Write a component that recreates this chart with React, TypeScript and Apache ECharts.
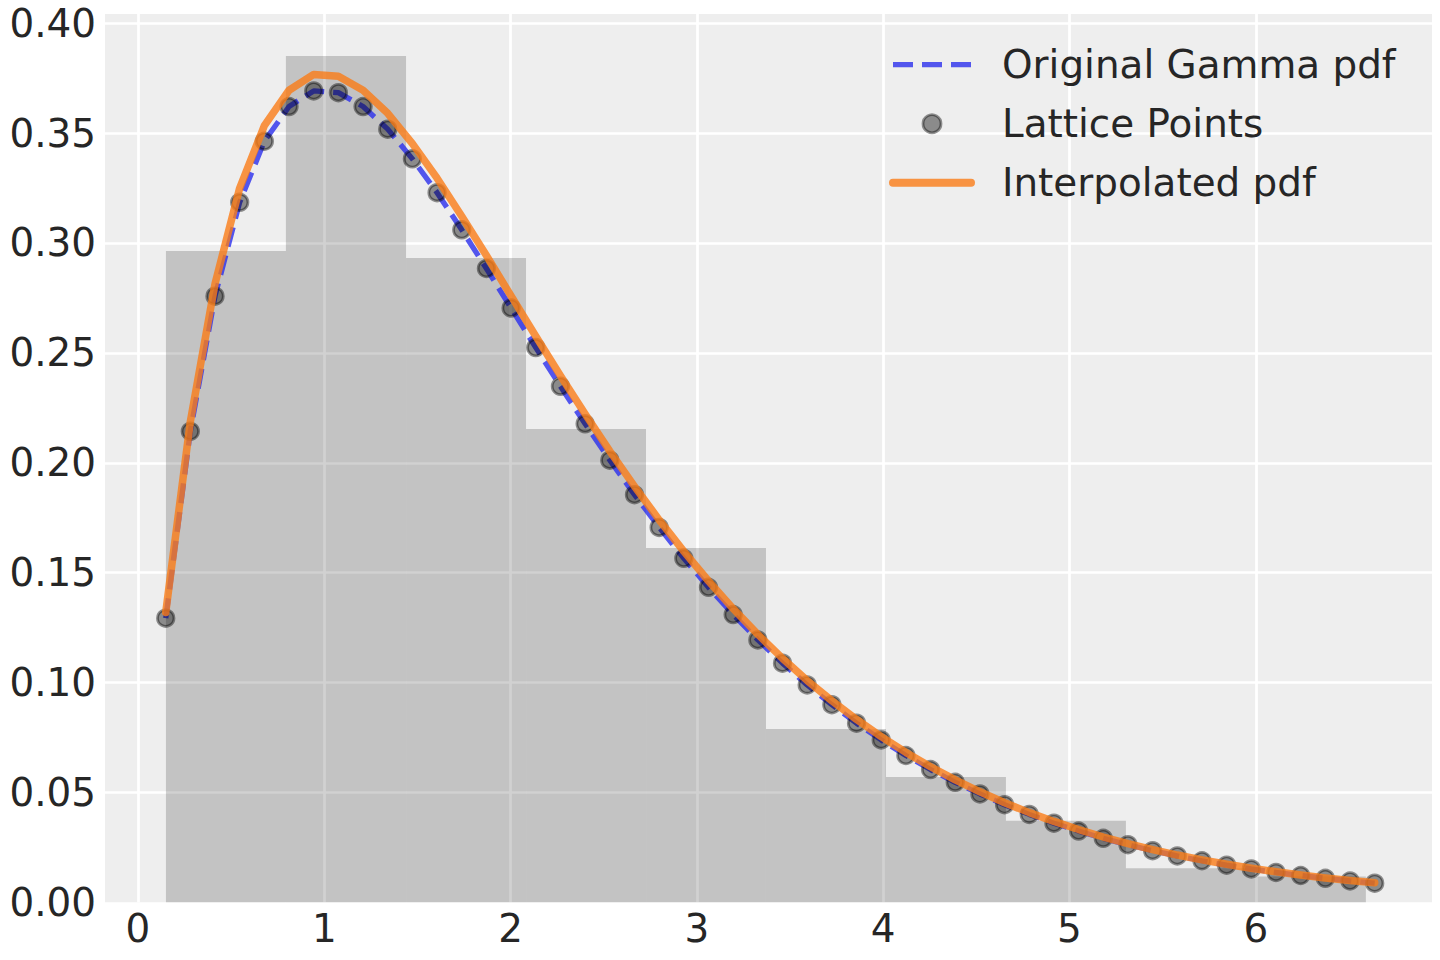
import React, { useEffect, useRef } from "react";
import * as echarts from "echarts";

// Lattice abscissae
const latticeX = [
  0.149, 0.281, 0.4135, 0.5459, 0.6784, 0.8108, 0.9433, 1.0757, 1.2082, 1.3406,
  1.473, 1.6055, 1.7379, 1.8704, 2.0028, 2.1353, 2.2677, 2.4002, 2.5326, 2.6651,
  2.7975, 2.9299, 3.0624, 3.1948, 3.3273, 3.4597, 3.5922, 3.7246, 3.8571, 3.9895,
  4.122, 4.2544, 4.3868, 4.5193, 4.6517, 4.7842, 4.9166, 5.0491, 5.1815, 5.314,
  5.4464, 5.5788, 5.7113, 5.8437, 5.9762, 6.1086, 6.2411, 6.3735, 6.506, 6.6384,
];

// Original Gamma pdf / lattice point values
const gammaPdf = [
  0.1293, 0.2143, 0.2758, 0.3185, 0.3463, 0.3621, 0.3692, 0.3684, 0.3621, 0.3518,
  0.3383, 0.3229, 0.306, 0.2884, 0.2704, 0.2524, 0.2348, 0.2177, 0.2012, 0.1855,
  0.1706, 0.1565, 0.1433, 0.1309, 0.1194, 0.1088, 0.0989, 0.0899, 0.0815, 0.0739,
  0.0668, 0.0604, 0.0546, 0.0493, 0.0444, 0.04, 0.036, 0.0324, 0.0291, 0.0262,
  0.0235, 0.0211, 0.0189, 0.0169, 0.0152, 0.0136, 0.0122, 0.0109, 0.0097, 0.0087,
];

// Interpolated pdf values at the lattice
const interpPdf = [
  0.1319, 0.2187, 0.2814, 0.325, 0.3534, 0.3695, 0.3767, 0.3759, 0.3695, 0.359,
  0.3452, 0.3295, 0.3122, 0.2943, 0.2759, 0.2576, 0.2396, 0.2222, 0.2053, 0.1893,
  0.174, 0.1597, 0.1462, 0.1336, 0.1219, 0.111, 0.1009, 0.0917, 0.0832, 0.0754,
  0.0682, 0.0617, 0.0557, 0.0503, 0.0453, 0.0408, 0.0368, 0.0331, 0.0297, 0.0267,
  0.024, 0.0215, 0.0193, 0.0173, 0.0155, 0.0139, 0.0124, 0.0111, 0.0099, 0.0089,
];

// Histogram (density) bins
const histEdges = [0.15, 0.794, 1.439, 2.083, 2.727, 3.371, 4.015, 4.659, 5.303, 5.996, 6.591];
const histDensity = [0.2964, 0.3851, 0.2932, 0.2154, 0.1612, 0.0788, 0.057, 0.0371, 0.0155, 0.0117];

const legendNames = ["Original Gamma pdf", "Lattice Points", "Interpolated pdf"];

const BLUE = "rgba(42,46,236,0.8)";
const ORANGE = "rgba(250,124,23,0.8)";

export default function App() {
  const ref = useRef<HTMLDivElement>(null);

  useEffect(() => {
    if (!ref.current) return;
    const chart = echarts.init(ref.current, null, { renderer: "svg" });
    const font = "'DejaVu Sans', sans-serif";
    const textColor = "#262626";
    const histData = histDensity.map((h, i) => [histEdges[i], histEdges[i + 1], h]);

    chart.setOption({
      animation: false,
      backgroundColor: "#ffffff",
      grid: {
        left: 105,
        right: 8,
        top: 14,
        bottom: 57.7,
        show: true,
        backgroundColor: "#eeeeee",
        borderWidth: 0,
      },
      xAxis: {
        type: "value",
        min: -0.177,
        max: 6.946,
        splitNumber: 7,
        axisLine: { show: false },
        axisTick: { show: false },
        axisLabel: {
          color: textColor,
          fontSize: 38.9,
          fontFamily: font,
          margin: 7,
          showMinLabel: false,
          showMaxLabel: false,
          formatter: (v: number) => (Math.abs(v - Math.round(v)) < 1e-9 ? String(Math.round(v)) : ""),
        },
        splitLine: {
          show: true,
          showMinLine: false,
          showMaxLine: false,
          lineStyle: { color: "#ffffff", width: 2.7 },
        },
      },
      yAxis: {
        type: "value",
        min: 0,
        max: 0.4042,
        interval: 0.05,
        axisLine: { show: false },
        axisTick: { show: false },
        axisLabel: {
          color: textColor,
          fontSize: 38.9,
          fontFamily: font,
          margin: 9,
          showMaxLabel: false,
          formatter: (v: number) => v.toFixed(2),
        },
        splitLine: {
          show: true,
          showMinLine: false,
          showMaxLine: false,
          lineStyle: { color: "#ffffff", width: 2.7 },
        },
      },
      legend: {
        orient: "vertical",
        left: 889,
        top: 44.7,
        padding: 0,
        itemWidth: 78,
        itemHeight: 18,
        itemGap: 19,
        textStyle: {
          color: textColor,
          fontSize: 38.9,
          fontFamily: font,
          lineHeight: 40,
          padding: [0, 0, 0, 26],
        },
        data: [
          {
            name: legendNames[0],
            itemStyle: { opacity: 0 },
            lineStyle: { color: BLUE, width: 5.3, type: [20, 9] },
          },
          {
            name: legendNames[1],
            itemStyle: { color: "rgba(0,0,0,0.52)", borderColor: "rgba(0,0,0,0.52)", borderWidth: 2.8 },
          },
          {
            name: legendNames[2],
            itemStyle: { opacity: 0 },
            lineStyle: { color: ORANGE, width: 8, cap: "round" },
          },
        ],
      },
      series: [
        {
          type: "custom",
          name: "Histogram",
          data: histData,
          encode: { x: [0, 1], y: 2 },
          silent: true,
          z: 1,
          renderItem: (params: any, api: any) => {
            const p0 = api.coord([api.value(0), api.value(2)]);
            const p1 = api.coord([api.value(1), 0]);
            return {
              type: "rect",
              shape: { x: p0[0], y: p0[1], width: p1[0] - p0[0], height: p1[1] - p0[1] },
              style: { fill: "rgba(0,0,0,0.18)" },
            };
          },
        },
        {
          type: "line",
          name: legendNames[0],
          data: latticeX.map((x, i) => [x, gammaPdf[i]]),
          symbol: "none",
          showSymbol: false,
          z: 2,
          color: BLUE,
          lineStyle: { color: BLUE, width: 5.3, type: [20, 9] },
        },
        {
          type: "scatter",
          name: legendNames[1],
          data: latticeX.map((x, i) => [x, gammaPdf[i]]),
          symbol: "circle",
          symbolSize: 16.5,
          z: 3,
          itemStyle: {
            color: "rgba(0,0,0,0.52)",
            borderColor: "rgba(0,0,0,0.52)",
            borderWidth: 2.8,
          },
        },
        {
          type: "line",
          name: legendNames[2],
          data: latticeX.map((x, i) => [x, interpPdf[i]]),
          symbol: "none",
          showSymbol: false,
          z: 4,
          color: ORANGE,
          lineStyle: { color: ORANGE, width: 7.5, cap: "round", join: "round" },
        },
      ],
    });

    return () => {
      chart.dispose();
    };
  }, []);

  return (
    <div
      ref={ref}
      style={{ position: "fixed", left: 0, top: 0, width: 1440, height: 960, background: "#ffffff" }}
    />
  );
}
